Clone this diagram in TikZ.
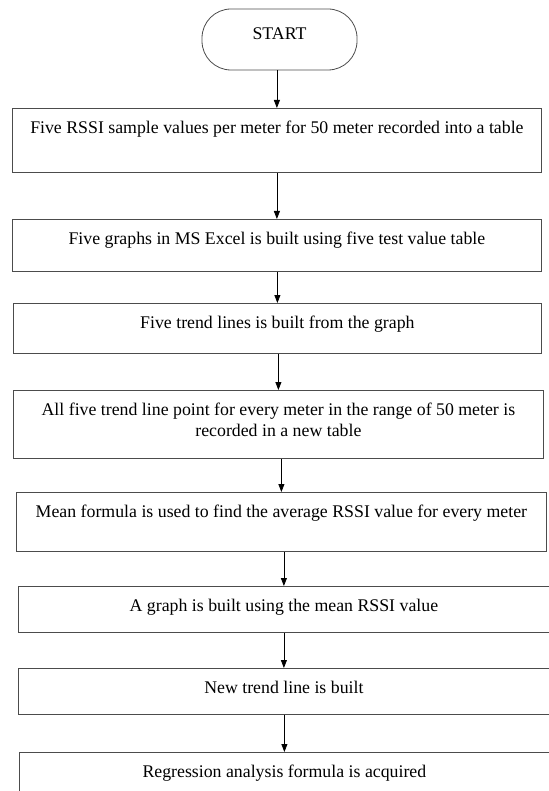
\documentclass[tikz,border=0pt]{standalone}
\usepackage{fontspec}
\setmainfont{Liberation Serif}
\usetikzlibrary{arrows.meta}

\begin{document}
\begin{tikzpicture}[x=1pt, y=-1pt,
    every node/.style = {font=\fontsize{17.8}{21}\selectfont, align=center},
    terminal/.style = {draw=black!70, line width=0.8pt, rounded corners=29pt,
      minimum width=155pt, minimum height=61pt, text depth=12pt},
    stepbox/.style = {draw=black!70, line width=0.8pt, anchor=north west,
      inner xsep=0pt, inner ysep=13pt, text depth=#1},
    stepbox/.default = 10pt,
    flow/.style = {draw=black, line width=0.8pt, -{Triangle[width=6pt,length=8pt]}},
    ]
    \useasboundingbox (0,0) rectangle (548,791);

    \node [terminal] (start) at (279.5,39.5) {START};
    \node [stepbox=25.7pt, minimum width=529pt] (record) at (12,108)
      {Five RSSI sample values per meter for 50 meter recorded into a table};
    \node [stepbox=13.7pt, minimum width=529pt] (graphs) at (12,219)
      {Five graphs in MS Excel is built using five test value table};
    \node [stepbox=11.7pt, minimum width=528pt] (trends) at (13,303)
      {Five trend lines is built from the graph};
    \node [stepbox=8.7pt, minimum width=530pt] (points) at (13,390)
      {All five trend line point for every meter in the range of 50 meter is\\
       recorded in a new table};
    \node [stepbox=20.7pt, minimum width=530pt] (mean) at (16,492)
      {Mean formula is used to find the average RSSI value for every meter};
    \node [stepbox=7.7pt, minimum width=531pt] (meangraph) at (18,586)
      {A graph is built using the mean RSSI value};
    \node [stepbox=7.7pt, minimum width=531pt] (newtrend) at (18,668)
      {New trend line is built};
    \node [stepbox=20pt, minimum width=530pt] (regression) at (19,752)
      {Regression analysis formula is acquired};

    % arrows
    \draw [flow] (record.north |- start.south) -- (record.north);
    \draw [flow] (graphs.north |- record.south) -- (graphs.north);
    \draw [flow] (trends.north |- graphs.south) -- (trends.north);
    \draw [flow] (points.north |- trends.south) -- (points.north);
    \draw [flow] (mean.north |- points.south) -- (mean.north);
    \draw [flow] (meangraph.north |- mean.south) -- (meangraph.north);
    \draw [flow] (newtrend.north |- meangraph.south) -- (newtrend.north);
    \draw [flow] (regression.north |- newtrend.south) -- (regression.north);

\end{tikzpicture}
\end{document}
